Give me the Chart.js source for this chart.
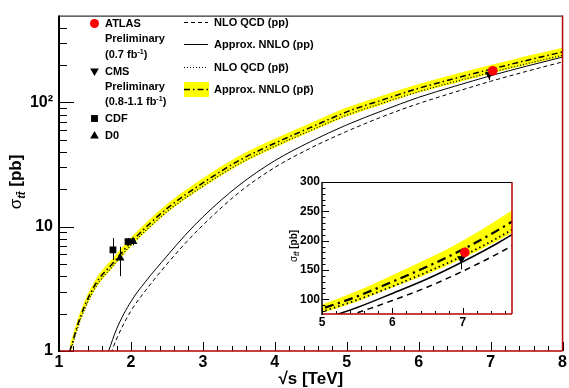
<!DOCTYPE html>
<html>
<head>
<meta charset="utf-8">
<script src="https://cdn.jsdelivr.net/npm/chart.js@4.4.0/dist/chart.umd.min.js"></script>
<style>
html, body { margin: 0; padding: 0; background: #fff; }
#wrap { position: relative; width: 569px; height: 388px; }
#main { position: absolute; left: 0; top: 0; }
#inset { position: absolute; left: 282px; top: 170px; background: #fff; }
</style>
</head>
<body>
<div id="wrap">
  <canvas id="main" width="569" height="388"></canvas>
  <canvas id="inset" width="240" height="165"></canvas>
</div>
<script>
// theory curves (sigma in pb)
const sqrtsPpbar  = [1.15, 1.3, 1.5, 1.75, 2, 2.5, 3, 3.5, 4, 4.5, 5, 5.5, 6, 6.5, 7, 7.5, 8];
const nnloPpbar   = [1.0, 1.9, 3.4, 5.1, 7.5, 14, 22.5, 34, 47, 63, 84, 105, 130, 156, 185, 218, 255];
const nnloPpbarHi = [1.12, 2.1, 3.7, 5.6, 8.2, 15.2, 24.5, 37, 51, 68.5, 91, 114, 141, 169, 200, 236, 276];
const nnloPpbarLo = [0.92, 1.75, 3.1, 4.7, 6.9, 12.9, 20.7, 31.3, 43.2, 58, 77, 96.5, 120, 143, 170, 200, 234];
const nloPpbar    = [0.95, 1.8, 3.2, 4.85, 7.1, 13.2, 21.2, 32, 44.5, 59.5, 79, 99, 122, 147, 174, 205, 240];

const sqrtsPp = [1.69, 1.8, 2, 2.2, 2.5, 2.75, 3, 3.5, 4, 4.5, 5, 5.5, 6, 6.5, 7, 7.5, 8];
const nnloPp  = [1.0, 1.5, 2.5, 3.6, 5.8, 8.5, 12, 21.5, 34, 48.5, 66, 86, 110, 135, 164, 196, 232];
const nloPp   = [0.85, 1.25, 2.1, 3.05, 5.0, 7.3, 10.3, 18.8, 30, 43, 58.5, 77, 98, 121, 148, 178, 212];

// measurements
const atlasX = [7.03], atlasY = [180], atlasLo = [172], atlasHi = [188];
const cmsX = [6.98], cmsY = [169], cmsLo = [151], cmsHi = [186];
const cdfX = [1.75, 1.96], cdfY = [6.5, 7.6], cdfLo = [5.4, 7.1], cdfHi = [8.1, 8.1];
const d0X = [1.85, 2.03], d0Y = [5.6, 7.6], d0Lo = [4.0, 7.1], d0Hi = [6.9, 8.1];

// axes
const xMainTicks = [1, 2, 3, 4, 5, 6, 7, 8];
const yMainTicks = [1, 10, 100];
const yMainLabels = ['1', '10', '10\u00B2'];
const yMainMinor = [2, 3, 4, 5, 6, 7, 8, 9, 20, 30, 40, 50, 60, 70, 80, 90, 200, 300, 400];
const xInsetTicks = [5, 6, 7];
const yInsetTicks = [100, 150, 200, 250, 300];

const FONT = "'Liberation Sans', Arial, Helvetica, sans-serif";
const RED = '#b40000';
Chart.defaults.font.family = FONT;
Chart.defaults.color = '#000';

function curve(xs, ys, style) {
  return Object.assign({
    type: 'line', data: xs.map((x, i) => ({ x: x, y: ys[i] })),
    pointRadius: 0, borderColor: '#000', borderWidth: 1, fill: false,
    cubicInterpolationMode: 'monotone', order: 5
  }, style);
}

function marks(xs, ys, lo, hi, style) {
  return Object.assign({
    type: 'scatter', data: xs.map((x, i) => ({ x: x, y: ys[i] })),
    errLo: lo, errHi: hi, order: 1, pointBorderWidth: 0,
    pointBackgroundColor: '#000', pointBorderColor: '#000', pointRadius: 4.8
  }, style);
}

function buildSets(w) {
  return [
    curve(sqrtsPpbar, nnloPpbarHi, { borderWidth: 0, borderColor: 'rgba(0,0,0,0)', backgroundColor: '#ffff00', fill: '+1', order: 10 }),
    curve(sqrtsPpbar, nnloPpbarLo, { borderWidth: 0, borderColor: 'rgba(0,0,0,0)', order: 10 }),
    curve(sqrtsPp, nloPp, { borderDash: [4 * w, 3 * w], borderWidth: w }),
    curve(sqrtsPp, nnloPp, { borderWidth: w }),
    curve(sqrtsPpbar, nloPpbar, { borderDash: [1 * w, 2 * w], borderWidth: w * 1.2 }),
    curve(sqrtsPpbar, nnloPpbar, { borderDash: [6 * w, 3 * w, 1.5 * w, 3 * w], borderWidth: w * 1.5 }),
    marks(atlasX, atlasY, atlasLo, atlasHi, { pointStyle: 'circle', pointBackgroundColor: '#ff0000', pointBorderColor: '#ff0000', pointRadius: 4.8 }),
    marks(cmsX, cmsY, cmsLo, cmsHi, { pointStyle: 'triangle', pointRotation: 180, pointRadius: 5 }),
    marks(cdfX, cdfY, cdfLo, cdfHi, { pointStyle: 'rect', pointRadius: 4.8 }),
    marks(d0X, d0Y, d0Lo, d0Hi, { pointStyle: 'triangle', pointRadius: 5 })
  ];
}

// error bars drawn just before each marker set, so they sit on the band but under the marker
const errorBars = {
  id: 'errorBars',
  beforeDatasetDraw(chart, args) {
    const ds = chart.data.datasets[args.index];
    if (!ds.errLo) return;
    const { ctx, chartArea: a, scales: { x, y } } = chart;
    ctx.save();
    ctx.beginPath(); ctx.rect(a.left, a.top, a.right - a.left, a.bottom - a.top); ctx.clip();
    ctx.strokeStyle = '#000'; ctx.lineWidth = 1;
    ds.data.forEach((p, i) => {
      const px = Math.round(x.getPixelForValue(p.x)) + 0.5;
      ctx.beginPath();
      ctx.moveTo(px, y.getPixelForValue(ds.errLo[i]));
      ctx.lineTo(px, y.getPixelForValue(ds.errHi[i]));
      ctx.stroke();
    });
    ctx.restore();
  }
};

function richText(ctx, segs, x, cy, size, draw) {
  const base = cy + size * 0.36;
  let cx = x;
  for (const s of segs) {
    const small = s.sup || s.sub;
    const sz = small ? size * 0.65 : size;
    ctx.font = (s.italic ? 'italic ' : '') + (s.w || 'bold') + ' ' + sz + 'px ' + FONT;
    const yy = s.sup ? base - size * 0.4 : s.sub ? base + size * 0.22 : base;
    const w = ctx.measureText(s.t).width;
    if (draw) {
      ctx.fillText(s.t, cx, yy);
      if (s.bar) ctx.fillRect(cx + w * 0.1, yy - sz * (s.barY || 0.62), w * 0.8, Math.max(1, sz * 0.08));
    }
    cx += w;
  }
  return cx - x;
}

function drawRotated(ctx, segs, cx, cy, size) {
  ctx.save();
  ctx.translate(cx, cy);
  ctx.rotate(-Math.PI / 2);
  ctx.fillStyle = '#000'; ctx.textAlign = 'left'; ctx.textBaseline = 'alphabetic';
  const w = richText(ctx, segs, 0, 0, size, false);
  richText(ctx, segs, -w / 2, 0, size, true);
  ctx.restore();
}

const sigmaTitle = [
  { t: '\u03C3', w: 'normal' },
  { t: 't', sub: true, italic: true },
  { t: 't', sub: true, italic: true, bar: true, barY: 0.8 },
  { t: ' [pb]' }
];

function framePlugin(o) {
  return {
    id: 'frame',
    afterDraw(chart) {
      const { ctx, chartArea: a, scales: { x, y } } = chart;
      ctx.save();
      ctx.strokeStyle = '#000'; ctx.lineWidth = 1;
      ctx.beginPath();
      o.xMajor.forEach(v => {
        const p = Math.round(x.getPixelForValue(v)) + 0.5;
        ctx.moveTo(p, a.bottom); ctx.lineTo(p, a.bottom - o.xMajorLen);
      });
      o.xMinor.forEach(v => {
        const p = Math.round(x.getPixelForValue(v)) + 0.5;
        ctx.moveTo(p, a.bottom); ctx.lineTo(p, a.bottom - o.xMinorLen);
      });
      o.yMajor.forEach(v => {
        const p = Math.round(y.getPixelForValue(v)) + 0.5;
        ctx.moveTo(a.left, p); ctx.lineTo(a.left + o.yMajorLen, p);
      });
      o.yMinor.forEach(v => {
        const p = Math.round(y.getPixelForValue(v)) + 0.5;
        ctx.moveTo(a.left, p); ctx.lineTo(a.left + o.yMinorLen, p);
      });
      ctx.stroke();

      function seg(x1, y1, x2, y2, c, w) {
        ctx.strokeStyle = c; ctx.lineWidth = w;
        ctx.beginPath(); ctx.moveTo(x1, y1); ctx.lineTo(x2, y2); ctx.stroke();
      }
      seg(a.left, a.top + 0.5, a.right, a.top + 0.5, '#000', 1);
      seg(a.right, a.top, a.right, a.bottom, RED, 1.5);
      seg(a.left, a.bottom, a.right, a.bottom, RED, 1.5);
      seg(a.left, a.top, a.left, a.bottom + 1, '#000', o.leftW);
      if (o.title) drawRotated(ctx, sigmaTitle, o.title.x, o.title.y, o.title.size);
      ctx.restore();
    }
  };
}

function range(from, to, step, skip) {
  const out = [];
  for (let v = from; v <= to + 1e-9; v += step) {
    const r = Math.round(v * 100) / 100;
    if (!skip.includes(r)) out.push(r);
  }
  return out;
}

function marker(ctx, style, x, y, r, color) {
  ctx.fillStyle = color;
  ctx.beginPath();
  if (style === 'circle') ctx.arc(x, y, r, 0, Math.PI * 2);
  else if (style === 'square') ctx.rect(x - r * 0.72, y - r * 0.72, r * 1.44, r * 1.44);
  else if (style === 'up') { ctx.moveTo(x, y - r); ctx.lineTo(x + r * 0.87, y + r * 0.5); ctx.lineTo(x - r * 0.87, y + r * 0.5); }
  else { ctx.moveTo(x, y + r); ctx.lineTo(x + r * 0.87, y - r * 0.5); ctx.lineTo(x - r * 0.87, y - r * 0.5); }
  ctx.closePath();
  ctx.fill();
}

const legendPlugin = {
  id: 'paperLegend',
  afterDraw(chart) {
    const ctx = chart.ctx;
    ctx.save();
    ctx.textAlign = 'left'; ctx.textBaseline = 'alphabetic';
    const fs = 11;
    const T = (segs, x, y) => { ctx.fillStyle = '#000'; richText(ctx, segs, x, y, fs, true); };

    marker(ctx, 'circle', 94.5, 23.5, 4.5, '#ff0000');
    T([{ t: 'ATLAS' }], 105, 23.5);
    T([{ t: 'Preliminary' }], 105, 38.5);
    T([{ t: '(0.7 fb' }, { t: '-1', sup: true }, { t: ')' }], 105, 54);
    marker(ctx, 'down', 94.5, 71, 5, '#000');
    T([{ t: 'CMS' }], 105, 71);
    T([{ t: 'Preliminary' }], 105, 86);
    T([{ t: '(0.8-1.1 fb' }, { t: '-1', sup: true }, { t: ')' }], 105, 101);
    marker(ctx, 'square', 94.5, 118.5, 4.8, '#000');
    T([{ t: 'CDF' }], 105, 118.5);
    marker(ctx, 'up', 94.5, 136, 5, '#000');
    T([{ t: 'D0' }], 105, 135.5);

    const l = (y, dash, w) => {
      ctx.strokeStyle = '#000'; ctx.lineWidth = w; ctx.setLineDash(dash);
      ctx.beginPath(); ctx.moveTo(184, y); ctx.lineTo(208, y); ctx.stroke();
    };
    l(22.5, [4, 3], 1);
    l(44.5, [], 1);
    l(67.5, [1, 2], 1.2);
    ctx.fillStyle = '#ffff00';
    ctx.fillRect(184, 82, 25, 15);
    l(89.5, [6, 3, 1.5, 3], 1.5);
    ctx.setLineDash([]);
    T([{ t: 'NLO QCD (pp)' }], 214, 22.5);
    T([{ t: 'Approx. NNLO (pp)' }], 214, 44.5);
    T([{ t: 'NLO QCD (p' }, { t: 'p', bar: true, barY: 0.7 }, { t: ')' }], 214, 67.5);
    T([{ t: 'Approx. NNLO (p' }, { t: 'p', bar: true, barY: 0.7 }, { t: ')' }], 214, 89.5);
    ctx.restore();
  }
};

new Chart(document.getElementById('main'), {
  type: 'scatter',
  data: { datasets: buildSets(1) },
  options: {
    responsive: false, animation: false, devicePixelRatio: 1,
    layout: { padding: { top: 11, right: 3, left: 0, bottom: 0 } },
    plugins: { legend: { display: false }, tooltip: { enabled: false } },
    scales: {
      x: {
        type: 'linear', min: 1, max: 8,
        grid: { display: false, drawTicks: false }, border: { display: false },
        afterBuildTicks: s => { s.ticks = xMainTicks.map(v => ({ value: v })); },
        afterFit: s => { s.height = 37; },
        ticks: { font: { size: 16, weight: 'bold' }, color: '#000', padding: 2, maxRotation: 0, autoSkip: false },
        title: { display: true, text: '\u221As [TeV]', font: { size: 17, weight: 'bold', lineHeight: 1 }, color: '#000', padding: { top: 0, bottom: 0 } }
      },
      y: {
        type: 'logarithmic', min: 1, max: 500,
        grid: { display: false, drawTicks: false }, border: { display: false },
        afterBuildTicks: s => { s.ticks = yMainTicks.map(v => ({ value: v })); },
        afterFit: s => { s.width = 59; },
        ticks: { font: { size: 16, weight: 'bold' }, color: '#000', padding: 6, autoSkip: false,
                 callback: v => yMainLabels[yMainTicks.indexOf(v)] }
      }
    }
  },
  plugins: [errorBars, framePlugin({
    xMajor: xMainTicks, xMinor: range(1, 8, 0.2, xMainTicks), xMajorLen: 9, xMinorLen: 5,
    yMajor: yMainTicks, yMinor: yMainMinor, yMajorLen: 15, yMinorLen: 8, leftW: 2,
    title: { x: 15, y: 182, size: 17 }
  }), legendPlugin]
});

new Chart(document.getElementById('inset'), {
  type: 'scatter',
  data: { datasets: buildSets(1.5) },
  options: {
    responsive: false, animation: false, devicePixelRatio: 1,
    layout: { padding: { top: 12, right: 10, left: 0, bottom: 0 } },
    plugins: { legend: { display: false }, tooltip: { enabled: false } },
    scales: {
      x: {
        type: 'linear', min: 5, max: 7.7,
        grid: { display: false, drawTicks: false }, border: { display: false },
        afterBuildTicks: s => { s.ticks = xInsetTicks.map(v => ({ value: v })); },
        afterFit: s => { s.height = 21; },
        ticks: { font: { size: 12, weight: 'bold' }, color: '#000', padding: 1, maxRotation: 0, autoSkip: false }
      },
      y: {
        type: 'linear', min: 75, max: 300,
        grid: { display: false, drawTicks: false }, border: { display: false },
        afterBuildTicks: s => { s.ticks = yInsetTicks.map(v => ({ value: v })); },
        afterFit: s => { s.width = 40; },
        ticks: { font: { size: 12, weight: 'bold' }, color: '#000', padding: 2, autoSkip: false }
      }
    }
  },
  plugins: [errorBars, framePlugin({
    xMajor: xInsetTicks, xMinor: range(5, 7.6, 0.2, xInsetTicks), xMajorLen: 6, xMinorLen: 3,
    yMajor: yInsetTicks, yMinor: range(80, 290, 10, yInsetTicks), yMajorLen: 7, yMinorLen: 3.5, leftW: 1.5,
    title: { x: 11, y: 76, size: 10 }
  })]
});
</script>
</body>
</html>
